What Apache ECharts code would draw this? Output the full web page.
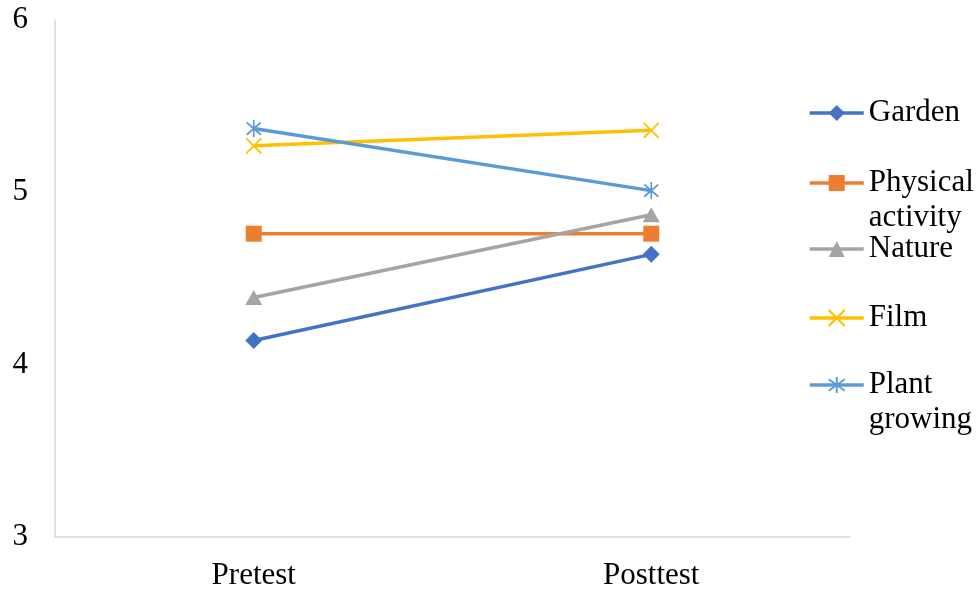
<!DOCTYPE html>
<html>
<head>
<meta charset="utf-8">
<script src="https://cdn.jsdelivr.net/npm/echarts@6/dist/echarts.min.js"></script>
<style>
  html, body { margin: 0; padding: 0; background: #fff; }
  #chart { width: 979px; height: 592px; }
</style>
</head>
<body>
<div id="chart"></div>
<script>
// Test phases on the x axis
const phases = ['Pretest', 'Posttest'];

// Mean scores per group
const garden = [4.14, 4.64];
const physicalActivity = [4.76, 4.76];
const nature = [4.39, 4.87];
const film = [5.27, 5.36];
const plantGrowing = [5.37, 5.01];

// Y axis range
const yMin = 3;
const yMax = 6;
const yStep = 1;

const FONT = '"Liberation Serif", "Times New Roman", serif';
const FONT_SIZE = 31;

const xPath = 'path://M0,0L10,10M10,0L0,10';
const starPath = 'path://M1,2L11,12M11,2L1,12M6,0L6,14';

const groups = [
  { name: 'Garden', label: 'Garden', data: garden, color: '#4472C4', symbol: 'diamond', size: [17, 17], stroke: false },
  { name: 'Physical activity', label: 'Physical\nactivity', data: physicalActivity, color: '#ED7D31', symbol: 'rect', size: [16, 16], stroke: false },
  { name: 'Nature', label: 'Nature', data: nature, color: '#A5A5A5', symbol: 'triangle', size: [17, 15], stroke: false },
  { name: 'Film', label: 'Film', data: film, color: '#FFC000', symbol: xPath, size: [15, 15], stroke: true },
  { name: 'Plant growing', label: 'Plant\ngrowing', data: plantGrowing, color: '#5B9BD5', symbol: starPath, size: [14, 17], stroke: true }
];

// Icon centres of the legend entries, top to bottom
const legendY = [113, 183, 249, 318, 385];
const LINE_H = 35;
const ICON_H = 20;

const series = groups.map(g => ({
  name: g.name,
  type: 'line',
  data: g.data,
  symbol: g.symbol,
  symbolSize: g.size,
  lineStyle: { color: g.color, width: 3.5 },
  itemStyle: g.stroke
    ? { color: g.color, borderColor: g.color, borderWidth: 1.8 }
    : { color: g.color, borderWidth: 0 },
  emphasis: { disabled: true },
  z: 2
}));

// Wrapped labels get a blank first line so the icon sits beside the first text line
const legends = groups.map((g, i) => {
  const twoLine = g.label.indexOf('\n') >= 0;
  const text = twoLine ? ' \n' + g.label : g.label;
  const blockH = twoLine ? LINE_H * 3 : LINE_H;
  return {
    data: [g.name],
    orient: 'vertical',
    left: 808,
    top: legendY[i] - blockH / 2,
    itemWidth: 54,
    itemHeight: ICON_H,
    itemGap: 0,
    padding: 0,
    selectedMode: false,
    lineStyle: { width: 3.5 },
    formatter: () => text,
    textStyle: {
      fontFamily: FONT,
      fontSize: FONT_SIZE,
      color: '#000',
      lineHeight: LINE_H
    }
  };
});

const chart = echarts.init(document.getElementById('chart'), null, { renderer: 'canvas' });
chart.setOption({
  animation: false,
  backgroundColor: '#ffffff',
  grid: { left: 55, right: 129, top: 20, bottom: 55, containLabel: false },
  legend: legends,
  xAxis: {
    type: 'category',
    data: phases,
    boundaryGap: true,
    axisLine: { lineStyle: { color: '#d9d9d9', width: 1.5 } },
    axisTick: { show: false },
    axisLabel: { fontFamily: FONT, fontSize: FONT_SIZE, color: '#000', margin: 23 },
    splitLine: { show: false }
  },
  yAxis: {
    type: 'value',
    min: yMin,
    max: yMax,
    interval: yStep,
    axisLine: { show: true, lineStyle: { color: '#d9d9d9', width: 1.5 } },
    axisTick: { show: false },
    axisLabel: { fontFamily: FONT, fontSize: FONT_SIZE, color: '#000', margin: 27 },
    splitLine: { show: false }
  },
  series: series
});
</script>
</body>
</html>
